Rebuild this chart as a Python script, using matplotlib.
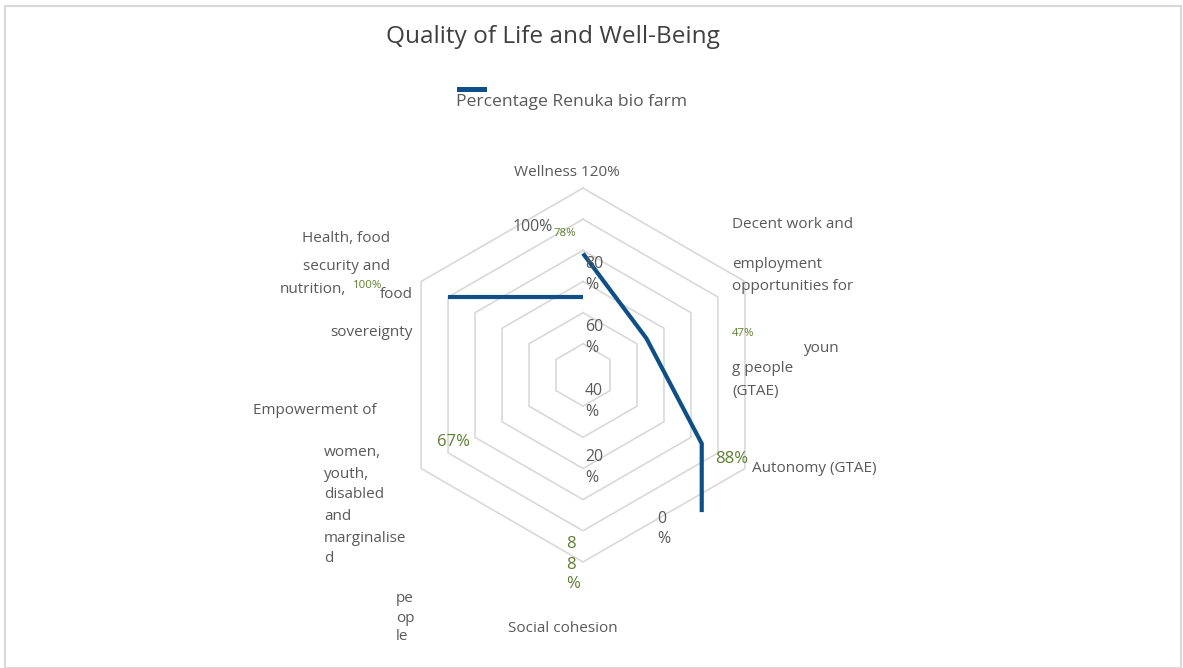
import matplotlib
matplotlib.use("Agg")
import matplotlib.pyplot as plt
import numpy as np
from matplotlib.patches import Rectangle

plt.rcParams['font.family'] = ['Open Sans', 'DejaVu Sans']

# ---- data ----
categories = ["Wellness", "Decent work and employment opportunities for young people (GTAE)",
              "Autonomy (GTAE)", "Social cohesion",
              "Empowerment of women, youth, disabled and marginalised people",
              "Health, food security and nutrition, food sovereignty"]
values = [0.78, 0.47, 0.88, 0.88, 0.67, 1.00]
value_labels = ["78%", "47%", "88%", "88%", "67%", "100%"]
ring_levels = [0.2, 0.4, 0.6, 0.8, 1.0, 1.2]
series_name = "Percentage Renuka bio farm"
title = "Quality of Life and Well-Being"

W, H = 1183, 668
fig = plt.figure(figsize=(W / 100, H / 100), dpi=100)
fig.patch.set_facecolor("white")

# radar geometry (layout)
cx, cy, scale = 583.0, 375.0, 155.8  # pixel centre and pixels per unit
ax = fig.add_axes([0, 0, 1, 1])
ax.set_xlim(-cx / scale, (W - cx) / scale)
ax.set_ylim(-(H - cy) / scale, cy / scale)
ax.axis("off")

angles = np.deg2rad([90, 30, -30, -90, -150, 150])

GRID = "#d9d9d9"
BLUE = "#0e4f88"
GREEN = "#5b7f2e"
TXT = "#595959"

# hexagonal rings
for r in ring_levels:
    xs = [r * np.cos(a) for a in angles] + [r * np.cos(angles[0])]
    ys = [r * np.sin(a) for a in angles] + [r * np.sin(angles[0])]
    ax.plot(xs, ys, color=GRID, lw=1.2, zorder=1)

# data points
px = [v * np.cos(a) for v, a in zip(values, angles)]
py = [v * np.sin(a) for v, a in zip(values, angles)]

# series line as rendered (broken) in the reference
ax.plot([px[0], px[1], px[2], px[2]], [py[0], py[1], py[2], py[3]],
        color=BLUE, lw=3.0, solid_capstyle="butt", solid_joinstyle="miter", zorder=3)
ax.plot([px[5], px[0]], [py[5], py[5]], color=BLUE, lw=3.0,
        solid_capstyle="butt", zorder=3)


def T(x, y, s, size=10, color=TXT, ha="left", va="center", **kw):
    fig.text(x / W, 1 - y / H, s, fontsize=size, color=color, ha=ha, va=va, **kw)


LS = 11  # category label size
# title and legend
T(553, 37, title, size=17.6, color="#404040", ha="center")
fig.patches.append(Rectangle((457 / W, 1 - 91.5 / H), 30 / W, 4 / H,
                             transform=fig.transFigure, facecolor=BLUE, edgecolor="none"))
T(456, 102, series_name, size=12.6, color=TXT)

# radial tick labels (as positioned in reference)
T(514, 173, "Wellness 120%", size=LS)
T(513, 227, "100%", size=11.4)
for yy, lab in [(264, "80"), (327, "60"), (391, "40"), (457, "20")]:
    T(585, yy, lab, size=11.4)
    T(585, yy + 21, "%", size=11.4)
T(657, 519, "0", size=11.4)
T(657, 539, "%", size=11.4)

# category labels
T(732, 224, "Decent work and", size=LS)
T(732, 265, "employment", size=LS)
T(732, 287, "opportunities for", size=LS)
T(804, 348, "youn", size=LS)
T(732, 369, "g people", size=LS)
T(732, 392, "(GTAE)", size=LS)
T(752, 468, "Autonomy (GTAE)", size=LS)
T(508, 629, "Social cohesion", size=LS)
T(253, 411, "Empowerment of", size=LS)
for yy, s in [(453, "women,"), (474, "youth,"), (495, "disabled"), (516, "and"),
              (538, "marginalise"), (559, "d")]:
    T(324, yy, s, size=LS)
for yy, s in [(599, "pe"), (618, "op"), (637, "le")]:
    T(396, yy, s, size=LS)
T(390, 238, "Health, food", size=LS, ha="right")
T(390, 267, "security and", size=LS, ha="right")
T(280, 289, "nutrition,", size=LS)
T(413, 294, "food", size=LS, ha="right")
T(413, 333, "sovereignty", size=LS, ha="right")

# data labels
T(554, 233, value_labels[0], size=8.2, color=GREEN)
T(732, 333, value_labels[1], size=8.2, color=GREEN)
T(715, 459, value_labels[2], size=12, color=GREEN)
soc = value_labels[3]
T(566, 544, soc[0], size=12, color=GREEN)
T(566, 565, soc[1], size=12, color=GREEN)
T(566, 584, soc[2], size=12, color=GREEN)
T(437, 442, value_labels[4], size=12, color=GREEN)
T(353, 285, value_labels[5], size=8.2, color=GREEN)

# frame
fig.patches.append(Rectangle((5 / W, 0), (W - 7) / W, 1 - 6 / H,
                             transform=fig.transFigure, facecolor="none",
                             edgecolor="#d9d9d9", lw=1.5))

fig.savefig("out.png", dpi=100, facecolor="white")
